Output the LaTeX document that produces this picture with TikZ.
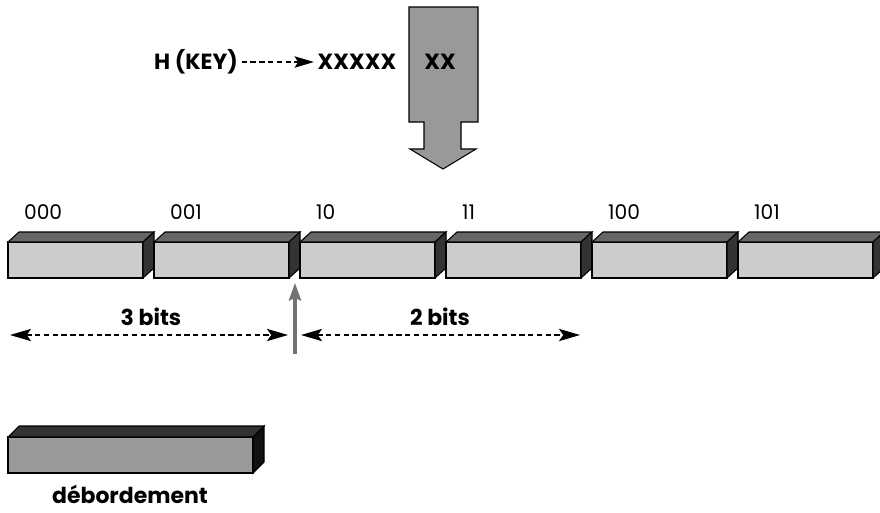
\documentclass[tikz,border=0pt]{standalone}
\usepackage{fontspec}
\setmainfont{Poppins}
\usetikzlibrary{arrows.meta}
\definecolor{barfront}{HTML}{CCCCCC}
\definecolor{bartop}{HTML}{666666}
\definecolor{barside}{HTML}{333333}
\definecolor{ovfront}{HTML}{999999}
\definecolor{ovtop}{HTML}{333333}
\definecolor{ovside}{HTML}{111111}
\tikzset{
 lbl/.style={font=\fontsize{11.5}{13}\selectfont,inner sep=1pt},
 blbl/.style={font=\fontsize{12.5}{14}\selectfont\bfseries,inner sep=2pt},
 dimline/.style={dash pattern=on 3pt off 2pt,line width=0.6pt,{Stealth[length=12pt,width=7pt,inset=2.5pt]}-{Stealth[length=12pt,width=7pt,inset=2.5pt]}},
 keyline/.style={dash pattern=on 3pt off 2pt,line width=0.7pt,-{Stealth[length=11pt,width=6.5pt,inset=2pt]}}
}
\begin{document}
\begin{tikzpicture}[x=0.02cm,y=-0.02cm]
 \useasboundingbox (0,0) rectangle (880,512);
 % big arrow carrying the last bits down to the table
 \filldraw[fill=ovfront,line width=0.6pt] (409,7) -- (478,7) -- (478,122) -- (461,122) -- (461,149) -- (476,149) -- (443,169) -- (410,149) -- (424,149) -- (424,122) -- (409,122) -- cycle;
 \node[blbl] (hkey) at (196,62) {H (KEY)};
 \node[blbl] (bits) at (357,62) {XXXXX};
 \node[blbl] (xx) at (440,62) {XX};
 \draw[keyline] (hkey) -- (bits);
 % the directory slots
 \foreach \x/\t in {8/000,154/001,300/10,446/11,592/100,738/101}{
  \filldraw[fill=barfront,line width=0.6pt] (\x,242) rectangle ++(135,36);
  \filldraw[fill=bartop,line width=0.6pt] (\x,242) -- ++(11,-10) -- ++(135,0) -- ++(-11,10) -- cycle;
  \filldraw[fill=barside,line width=0.6pt] (\x+135,242) -- ++(11,-10) -- ++(0,36) -- ++(-11,10) -- cycle;
  \node[lbl,anchor=west] (slot\t) at (\x+14,212) {\t};}
 \coordinate (l3) at (10,335); \coordinate (r3) at (288,335);
 \coordinate (l2) at (301,335); \coordinate (r2) at (580,335);
 \draw[dimline] (l3) -- (r3); \draw[dimline] (l2) -- (r2);
 \node[blbl] (three) at (151,317) {3 bits};
 \node[blbl] (two) at (440,317) {2 bits};
 \coordinate (ptr) at (295,354); \coordinate (ptrtip) at (295,283);
 \draw[gray!90!black,line width=1.8pt,-{Stealth[length=10pt,width=7pt,inset=1.5pt]}] (ptr) -- (ptrtip);
 % overflow bucket
 \filldraw[fill=ovfront,line width=0.6pt] (8,437) rectangle (253,473);
 \filldraw[fill=ovtop,line width=0.6pt] (8,437) -- (19,426) -- (264,426) -- (253,437) -- cycle;
 \filldraw[fill=ovside,line width=0.6pt] (253,437) -- (264,426) -- (264,462) -- (253,473) -- cycle;
 \node[blbl] (ovf) at (130,494) {débordement};
\end{tikzpicture}
\end{document}
